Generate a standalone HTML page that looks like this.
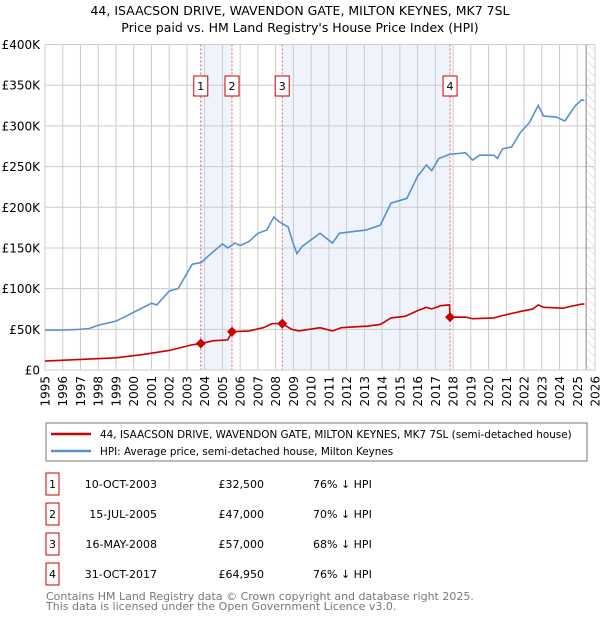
<!DOCTYPE html>
<html><head><meta charset="utf-8"><style>
body{margin:0;background:#fff;font-family:"Liberation Sans","DejaVu Sans",sans-serif;}
svg text{font-family:"DejaVu Sans","Liberation Sans",sans-serif;}
</style></head><body>
<svg id="c" width="600" height="620" xmlns="http://www.w3.org/2000/svg">
<defs><pattern id="hatch" width="6" height="6" patternUnits="userSpaceOnUse" patternTransform="rotate(-45)"><line x1="0" y1="0" x2="0" y2="6" stroke="#ccc" stroke-width="1"/></pattern></defs>
<text x="300" y="15" text-anchor="middle" font-size="12.5" fill="#000">44, ISAACSON DRIVE, WAVENDON GATE, MILTON KEYNES, MK7 7SL</text>
<text x="300" y="32" text-anchor="middle" font-size="12.5" fill="#000">Price paid vs. HM Land Registry's House Price Index (HPI)</text>
<g id="plot"></g>
<g>
<rect x="46" y="423" width="541" height="38" fill="#fff" stroke="#777"/>
<line x1="51" y1="441" x2="91" y2="441" stroke="#cc0000" stroke-width="2.5" transform="translate(0,-7)"/>
<text x="100" y="438" font-size="10.4">44, ISAACSON DRIVE, WAVENDON GATE, MILTON KEYNES, MK7 7SL (semi-detached house)</text>
<line x1="51" y1="451" x2="91" y2="451" stroke="#5b8fd0" stroke-width="2.5"/>
<text x="100" y="455" font-size="10.4">HPI: Average price, semi-detached house, Milton Keynes</text>
</g>
<g id="table" font-size="11"></g>
<text x="46" y="600" font-size="11" fill="#777">Contains HM Land Registry data © Crown copyright and database right 2025.</text>
<text x="46" y="610" font-size="11" fill="#777">This data is licensed under the Open Government Licence v3.0.</text>
</svg>
<script>
const hpiYears=[1995,1996,1997,1997.5,1998,1999,2000,2001,2001.3,2002,2002.5,2003.3,2003.8,2004.2,2005,2005.3,2005.7,2006,2006.5,2007,2007.5,2007.9,2008.2,2008.7,2009.0,2009.2,2009.5,2010.5,2011.2,2011.6,2012.3,2013.1,2013.9,2014.5,2015.4,2016,2016.5,2016.8,2017.2,2017.8,2018.7,2019.1,2019.5,2020.3,2020.5,2020.8,2021.3,2021.8,2022.3,2022.8,2023.1,2023.8,2024.3,2024.9,2025.25,2025.4];
const hpiValues=[49,49,50,51,55,60,71,82,80,97,100,130,132,140,155,150,156,153,158,168,172,188,182,176,155,143,152,168,156,168,170,172,178,205,211,238,252,245,260,265,267,258,264,264,260,272,274,292,304,325,312,311,306,325,332,331];
const redYears=[1995,1997,1999,2000.5,2002,2003.3,2003.78,2004.5,2005.3,2005.54,2006.5,2007.3,2007.8,2008.37,2008.9,2009.3,2010.5,2011.2,2011.7,2013.2,2013.9,2014.5,2015.3,2016,2016.5,2016.8,2017.3,2017.8,2017.83,2018.7,2019.1,2020.3,2020.8,2021.8,2022.5,2022.8,2023.1,2024.2,2024.6,2025.25,2025.4];
const redValues=[11,13,15,19,24,31,32.5,36,37,47,48,52,57,57,50,48,52,48,52,54,56,64,66,73,77,75,79,80,64.95,65,63,64,67,72,75,80,77,76,78,81,81];
const saleYears=[2003.78,2005.54,2008.37,2017.83];
const salePrices=[32.5,47,57,64.95];
const saleLabels=["1","2","3","4"];
const saleDates=["10-OCT-2003","15-JUL-2005","16-MAY-2008","31-OCT-2017"];
const salePriceText=["£32,500","£47,000","£57,000","£64,950"];
const saleHpiText=["76% ↓ HPI","70% ↓ HPI","68% ↓ HPI","76% ↓ HPI"];
const yTicks=[0,50,100,150,200,250,300,350,400];
const yTickLabels=["£0","£50K","£100K","£150K","£200K","£250K","£300K","£350K","£400K"];
const xTicks=[1995,1996,1997,1998,1999,2000,2001,2002,2003,2004,2005,2006,2007,2008,2009,2010,2011,2012,2013,2014,2015,2016,2017,2018,2019,2020,2021,2022,2023,2024,2025,2026];

const NS="http://www.w3.org/2000/svg";
const X0=45,X1=595,Y0=370,Y1=44.5;
const xs=t=>X0+(t-1995)*(X1-X0)/31;
const ys=v=>Y0-v*(Y0-Y1)/400;
const plot=document.getElementById('plot');
function mk(tag,attrs,parent){const e=document.createElementNS(NS,tag);for(const k in attrs)e.setAttribute(k,attrs[k]);(parent||plot).appendChild(e);return e;}

for(let i=0;i<saleYears.length;i+=2){
  const b=mk('rect',{x:xs(saleYears[i]),y:Y1,width:xs(saleYears[i+1])-xs(saleYears[i]),height:Y0-Y1,fill:'#eef3fc'});
  
  
}
const hx=xs(2025.5);
const h=mk('rect',{x:hx,y:Y1,width:X1-hx,height:Y0-Y1,fill:'url(#hatch)'});


xTicks.forEach(t=>{
  const l=mk('line',{x1:xs(t),x2:xs(t),y1:Y1,y2:Y0,stroke:'#ccc','stroke-width':1});
  
  
  const tx=mk('text',{x:0,y:0,'font-size':12,'text-anchor':'end',transform:`translate(${xs(t)+4.5},${Y0+6}) rotate(-90)`});
  tx.textContent=t;
  
  
});
yTicks.forEach((v,i)=>{
  const l=mk('line',{x1:X0,x2:X1,y1:ys(v),y2:ys(v),stroke:'#ccc','stroke-width':1});
  
  
  const tx=mk('text',{x:X0-5,y:ys(v)+4.5,'font-size':12,'text-anchor':'end'});
  tx.textContent=yTickLabels[i];
  
  
});
const vl=mk('line',{x1:hx,x2:hx,y1:Y1,y2:Y0,stroke:'#888','stroke-width':1});


saleYears.forEach((t,i)=>{
  const l=mk('line',{x1:xs(t),x2:xs(t),y1:Y1,y2:Y0,stroke:'#e06060','stroke-width':1,'stroke-dasharray':'2,2'});
  
  
  const r=mk('rect',{x:xs(t)-7,y:76,width:14,height:20,fill:'#fff',stroke:'#cc0000'});
  
  
  const tx=mk('text',{x:xs(t),y:90,'font-size':11,'text-anchor':'middle'});
  tx.textContent=saleLabels[i];
  
  
});
const ax=mk('rect',{x:X0,y:Y1,width:X1-X0,height:Y0-Y1,fill:'none',stroke:'#ccc'});


const hp=mk('polyline',{points:hpiYears.map((t,i)=>xs(t)+','+ys(hpiValues[i])).join(' '),fill:'none',stroke:'#5b8fd0','stroke-width':1.6});


const rp=mk('polyline',{points:redYears.map((t,i)=>xs(t)+','+ys(redValues[i])).join(' '),fill:'none',stroke:'#cc0000','stroke-width':1.6});


saleYears.forEach((t,i)=>{
  const cx=xs(t),cy=ys(salePrices[i]);
  const d=mk('polygon',{points:`${cx},${cy-5} ${cx+5},${cy} ${cx},${cy+5} ${cx-5},${cy}`,fill:'#cc0000'});
  
  
});
const tb=document.getElementById('table');
saleLabels.forEach((s,i)=>{
  const y=483+i*30;
  const r=mk('rect',{x:46,y:y-10,width:13,height:22,fill:'#fff',stroke:'#cc0000'},tb);
  
  
  const vals=[[s,52.5,'middle'],[saleDates[i],157,'end'],[salePriceText[i],264,'end'],[saleHpiText[i],313,'start']];
  vals.forEach(([txt,x,a],j)=>{
    const tx=mk('text',{x:x,y:y+5,'text-anchor':a},tb);
    tx.textContent=txt;
    
    
  });
});
</script>
</body></html>
